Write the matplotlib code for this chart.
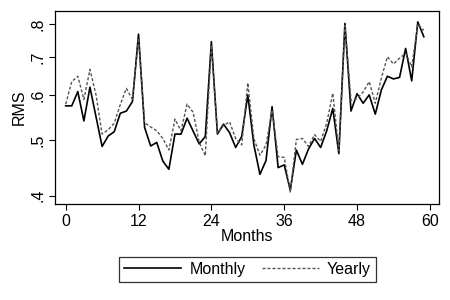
import numpy as np
import matplotlib
matplotlib.use('Agg')
import matplotlib.pyplot as plt
from matplotlib.ticker import FixedLocator, NullLocator

plt.rcParams['font.family'] = ['Liberation Sans', 'DejaVu Sans']

# months 0..59
months = list(range(60))

monthly = [0.575, 0.575, 0.609, 0.541, 0.620, 0.550, 0.488, 0.509, 0.518, 0.558,
           0.563, 0.585, 0.768, 0.527, 0.489, 0.496, 0.460, 0.445, 0.513, 0.513,
           0.547, 0.519, 0.493, 0.508, 0.745, 0.513, 0.534, 0.516, 0.486, 0.508,
           0.601, 0.491, 0.436, 0.461, 0.573, 0.448, 0.453, 0.409, 0.481, 0.454,
           0.483, 0.504, 0.486, 0.520, 0.569, 0.474, 0.802, 0.563, 0.604, 0.581,
           0.601, 0.556, 0.613, 0.648, 0.641, 0.645, 0.725, 0.636, 0.807, 0.760]

yearly = [0.579, 0.634, 0.648, 0.590, 0.666, 0.601, 0.513, 0.522, 0.536, 0.578,
          0.617, 0.590, 0.755, 0.537, 0.528, 0.520, 0.504, 0.481, 0.545, 0.520,
          0.579, 0.560, 0.496, 0.470, 0.735, 0.515, 0.531, 0.539, 0.504, 0.491,
          0.631, 0.504, 0.471, 0.491, 0.565, 0.468, 0.467, 0.406, 0.502, 0.504,
          0.488, 0.512, 0.498, 0.536, 0.605, 0.480, 0.795, 0.588, 0.592, 0.608,
          0.634, 0.581, 0.643, 0.701, 0.681, 0.697, 0.711, 0.673, 0.800, 0.780]

xticks = [0, 12, 24, 36, 48, 60]
yticks = [0.4, 0.5, 0.6, 0.7, 0.8]
ytick_labels = ['.4', '.5', '.6', '.7', '.8']

fig = plt.figure(figsize=(4.5, 3), dpi=100)
ax = fig.add_axes([0.1222, 0.32, 0.8534, 0.643])

ax.plot(months, monthly, color='black', lw=1.2, label='Monthly')
ax.plot(months, yearly, color='#555555', lw=1.0, ls=(0, (2.2, 1.4)), label='Yearly')

ax.set_yscale('log')
ax.set_ylim(0.3868, 0.843)
ax.set_xlim(-1.76, 61.5)

ax.yaxis.set_major_locator(FixedLocator(yticks))
ax.yaxis.set_minor_locator(NullLocator())
ax.set_yticklabels(ytick_labels, rotation=90, va='center')
ax.set_xticks(xticks)

ax.tick_params(axis='both', direction='out', length=4, width=0.8,
               labelsize=11.5, color='black')
ax.tick_params(axis='x', pad=3.5)
ax.tick_params(axis='y', pad=2.5)
for s in ax.spines.values():
    s.set_linewidth(0.9)

ax.set_xlabel('Months', fontsize=11.5, labelpad=0)
ax.set_ylabel('RMS', fontsize=11.5, labelpad=3)

fig.legend(loc='center', bbox_to_anchor=(0.55, 0.102), ncol=2,
           fontsize=11.5, frameon=True, fancybox=False, edgecolor='black',
           handlelength=3.6, columnspacing=1.0, handletextpad=0.5,
           borderpad=0.3).get_frame().set_linewidth(0.9)

fig.savefig('out.png', dpi=100, facecolor='white')
